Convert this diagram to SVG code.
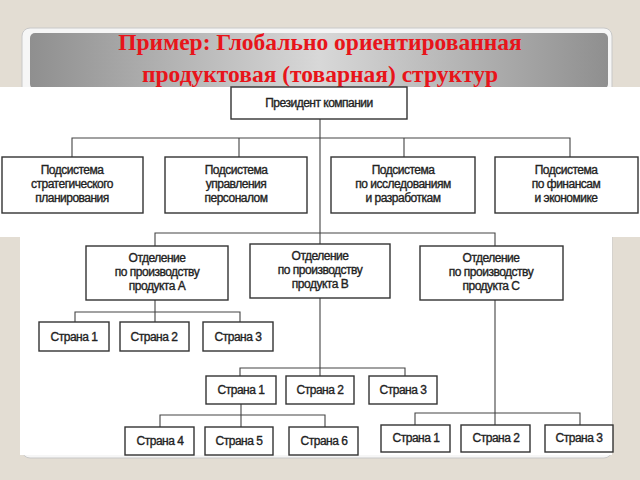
<svg xmlns="http://www.w3.org/2000/svg" width="640" height="480" viewBox="0 0 640 480">
<defs>
<linearGradient id="hg" x1="0" y1="0" x2="1" y2="0">
<stop offset="0" stop-color="#8f8f8f"/><stop offset="0.5" stop-color="#d8d8d8"/><stop offset="1" stop-color="#8f8f8f"/>
</linearGradient>
<style>
.b{fill:#fff;stroke:#333;stroke-width:1.4}
.t{font-family:"Liberation Sans",Arial,sans-serif;font-size:12px;fill:#222;stroke:#222;stroke-width:0.35;text-anchor:middle;letter-spacing:-0.5px}
.c{fill:none;stroke:#444;stroke-width:1.1}
.h{font-family:"Liberation Serif","Times New Roman",serif;font-weight:bold;font-size:23.5px;fill:#e8141a;text-anchor:middle}
</style>
</defs>
<rect width="640" height="480" fill="#e3ddd3"/>
<rect x="22" y="28" width="590" height="430" rx="8" fill="#f6f6f6" stroke="#c8c8c8"/>
<rect x="30" y="33" width="578" height="56" rx="5" fill="url(#hg)"/>
<rect x="0" y="87" width="640" height="150" fill="#fff"/>
<rect x="20" y="237" width="592" height="218" fill="#fff"/>
<text class="h" x="320" y="50">Пример: Глобально ориентированная</text>
<text class="h" x="320" y="82">продуктовая (товарная) структур</text>
<g id="connectors" class="c">
<path d="M320 119V244M72 157V138H570V157M239 138V157M404 138V157M155 246V233H495V246"/>
<path d="M155 300V312M75 322V312H240V322M155 312V322"/>
<path d="M320 298V368M240 376V368H405V376M320 368V376"/>
<path d="M241 404V415M160 427V415H325V427M241 415V427"/>
<path d="M495 300V413M415 425V413H580V425M495 413V425"/>
</g>
<g id="president"><rect class="b" x="231" y="87" width="176" height="32"/><text class="t" x="319" y="107">Президент компании</text></g>
<g id="s1"><rect class="b" x="2" y="157" width="141" height="56"/><text class="t" x="72" y="174">Подсистема<tspan x="72" dy="14">стратегического</tspan><tspan x="72" dy="14">планирования</tspan></text></g>
<g id="s2"><rect class="b" x="165" y="157" width="142" height="56"/><text class="t" x="236" y="174">Подсистема<tspan x="236" dy="14">управления</tspan><tspan x="236" dy="14">персоналом</tspan></text></g>
<g id="s3"><rect class="b" x="331" y="157" width="144" height="56"/><text class="t" x="403" y="174">Подсистема<tspan x="403" dy="14">по исследованиям</tspan><tspan x="403" dy="14">и разработкам</tspan></text></g>
<g id="s4"><rect class="b" x="495" y="157" width="143" height="56"/><text class="t" x="566" y="174">Подсистема<tspan x="566" dy="14">по финансам</tspan><tspan x="566" dy="14">и экономике</tspan></text></g>
<g id="dA"><rect class="b" x="86" y="246" width="142" height="54"/><text class="t" x="157" y="262">Отделение<tspan x="157" dy="14">по производству</tspan><tspan x="157" dy="14">продукта А</tspan></text></g>
<g id="dB"><rect class="b" x="250" y="244" width="140" height="54"/><text class="t" x="320" y="260">Отделение<tspan x="320" dy="14">по производству</tspan><tspan x="320" dy="14">продукта В</tspan></text></g>
<g id="dC"><rect class="b" x="420" y="246" width="143" height="54"/><text class="t" x="491" y="262">Отделение<tspan x="491" dy="14">по производству</tspan><tspan x="491" dy="14">продукта С</tspan></text></g>
<g id="a1"><rect class="b" x="39" y="322" width="70" height="29"/><text class="t" x="74" y="341">Страна 1</text></g>
<g id="a2"><rect class="b" x="120" y="322" width="69" height="29"/><text class="t" x="154" y="341">Страна 2</text></g>
<g id="a3"><rect class="b" x="203" y="322" width="70" height="29"/><text class="t" x="238" y="341">Страна 3</text></g>
<g id="b1"><rect class="b" x="206" y="376" width="70" height="28"/><text class="t" x="241" y="394">Страна 1</text></g>
<g id="b2"><rect class="b" x="286" y="376" width="68" height="28"/><text class="t" x="320" y="394">Страна 2</text></g>
<g id="b3"><rect class="b" x="369" y="376" width="68" height="28"/><text class="t" x="403" y="394">Страна 3</text></g>
<g id="b4"><rect class="b" x="125" y="427" width="69" height="28"/><text class="t" x="160" y="445">Страна 4</text></g>
<g id="b5"><rect class="b" x="205" y="427" width="68" height="28"/><text class="t" x="239" y="445">Страна 5</text></g>
<g id="b6"><rect class="b" x="289" y="427" width="69" height="28"/><text class="t" x="324" y="445">Страна 6</text></g>
<g id="c1"><rect class="b" x="381" y="425" width="69" height="27"/><text class="t" x="416" y="442">Страна 1</text></g>
<g id="c2"><rect class="b" x="461" y="425" width="69" height="27"/><text class="t" x="496" y="442">Страна 2</text></g>
<g id="c3"><rect class="b" x="545" y="425" width="68" height="27"/><text class="t" x="579" y="442">Страна 3</text></g>
</svg>
